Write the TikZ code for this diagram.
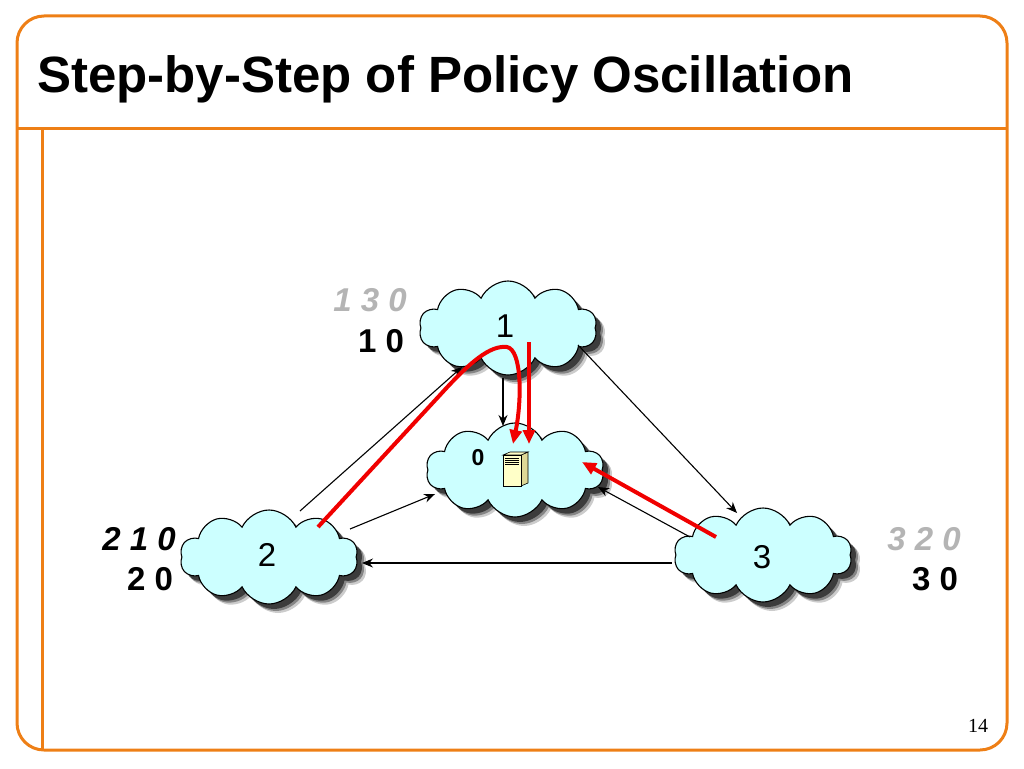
\documentclass[tikz,border=0pt]{standalone}
\usepackage{fontspec}
\setmainfont{Liberation Sans}
\newfontfamily\serifnum{Liberation Serif}
\usetikzlibrary{shapes.symbols,shadows,arrows.meta,calc}
\definecolor{frameorange}{RGB}{238,127,22}
\definecolor{cloudcyan}{RGB}{204,255,255}
\definecolor{labgray}{RGB}{180,180,180}
\definecolor{netred}{RGB}{240,0,0}
\definecolor{srvfront}{RGB}{255,255,200}
\definecolor{srvside}{RGB}{222,216,150}
\begin{document}
\begin{tikzpicture}[x=1pt,y=-1pt,
  frame/.style={draw=frameorange, line width=3pt},
  net/.style={cloud, cloud puffs=10, cloud puff arc=130, aspect=2, draw=black, line width=1.1pt,
    fill=cloudcyan, minimum width=178pt, minimum height=94pt, inner sep=0pt,
    font=\fontsize{33}{33}\selectfont,
    drop shadow={shadow xshift=9pt, shadow yshift=-9pt, fill=black, opacity=0.2},
    drop shadow={shadow xshift=7pt, shadow yshift=-7pt, fill=black, opacity=0.35},
    drop shadow={shadow xshift=5pt, shadow yshift=-5pt, fill=black, opacity=0.55}},
  route/.style={font=\fontsize{33}{33}\selectfont\bfseries, inner sep=0pt},
  oldroute/.style={font=\fontsize{33}{33}\selectfont\bfseries\itshape, inner sep=0pt},
  link/.style={line width=1.1pt, -{Stealth[length=11pt,width=9pt]}},
  flow/.style={draw=netred, line width=4pt, -{Triangle[length=14pt,width=12pt]}}]
\useasboundingbox (0,0) rectangle (1024,768);
% frame
\draw[frame, rounded corners=27pt] (17,16) rectangle (1007,750);
\coordinate (fl) at (17,128); \coordinate (fr) at (1007,128);
\coordinate (vt) at (42,128); \coordinate (vb) at (42,750);
\draw[frame] (fl) -- (fr);
\draw[frame] (vt) -- (vb);
\node[anchor=base west, font=\fontsize{51}{51}\selectfont\bfseries, inner sep=0pt] (title) at (37,92) {Step-by-Step of Policy Oscillation};
\node[font=\fontsize{20}{20}\selectfont\serifnum, inner sep=0pt] (pg) at (978,726) {14};
% clouds
\node[net] (c1) at (508,328) {};
\node[net] (c0) at (515,470) {};
\node[net] (c2) at (269,557) {};
\node[net] (c3) at (763,555) {};
\node[font=\fontsize{33}{33}\selectfont, inner sep=0pt] (n1) at (505,326) {1};
\node[font=\fontsize{33}{33}\selectfont, inner sep=0pt] (n2) at (267,555) {2};
\node[font=\fontsize{33}{33}\selectfont, inner sep=0pt] (n3) at (762,557) {3};
\node[font=\fontsize{23}{23}\selectfont\bfseries, inner sep=0pt] (z) at (478,458) {0};
% server
\draw[line width=0.6pt, fill=srvside] (521,455) -- (528,452) -- (528,483) -- (521,486) -- cycle;
\draw[line width=0.6pt, fill=srvfront] (503,455) -- (510,452) -- (528,452) -- (521,455) -- cycle;
\draw[line width=0.6pt, fill=srvfront] (503,455) rectangle (521,486);
\foreach \yy in {458,460,462,464} \draw[line width=0.5pt] (505,\yy) -- (519,\yy);
% route labels
\node[oldroute, text=labgray] (r1a) at (370,300) {1 3 0};
\node[route] (r1b) at (381,341) {1 0};
\node[oldroute] (r2a) at (139,539) {2 1 0};
\node[route] (r2b) at (150,579) {2 0};
\node[oldroute, text=labgray] (r3a) at (924,539) {3 2 0};
\node[route] (r3b) at (935,579) {3 0};
% black links
\draw[link] ($(c1)+(-5,50)$) -- ($(c0)+(-12,-44)$);
\draw[link] ($(c2)+(31,-46)$) -- ($(c1)+(-46,39)$);
\draw[link] ($(c1)+(70,17)$) -- ($(c3)+(-26,-42)$);
\draw[link] ($(c2)+(81,-28)$) -- ($(c0)+(-80,24)$);
\draw[link] ($(c3)+(-73,-18)$) -- ($(c0)+(83,17)$);
\draw[link] ($(c3)+(-91,8)$) -- ($(c2)+(93,6)$);
% red flows
\draw[flow] ($(c1)+(21,14)$) -- ($(c0)+(14,-26)$);
\draw[flow] ($(c2)+(49,-30)$) -- (440,395) .. controls (470,362) and (490,345) .. (507,347)
  .. controls (522,350) and (522,400) .. ($(c0)+(-2,-26)$);
\draw[flow] ($(c3)+(-47,-18)$) -- ($(c0)+(67,-8)$);
\end{tikzpicture}
\end{document}
